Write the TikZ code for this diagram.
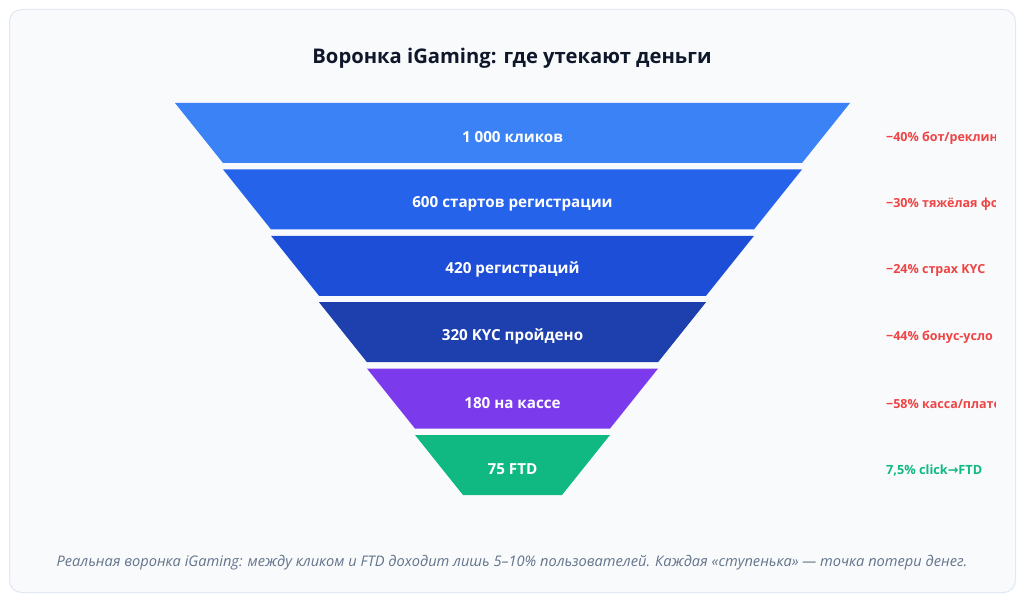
\documentclass[tikz,border=0pt]{standalone}
\usepackage{fontspec}
\setmainfont{Open Sans}
\newfontfamily\symfont{DejaVu Sans}
\definecolor{bgc}{HTML}{F8FAFC}
\definecolor{borderc}{HTML}{E2E8F0}
\definecolor{titlec}{HTML}{0F172A}
\definecolor{capc}{HTML}{64748B}
\definecolor{lossc}{HTML}{EF4444}
\definecolor{okc}{HTML}{10B981}
\definecolor{c1}{HTML}{3B82F6}
\definecolor{c2}{HTML}{2563EB}
\definecolor{c3}{HTML}{1D4ED8}
\definecolor{c4}{HTML}{1E40AF}
\definecolor{c5}{HTML}{7C3AED}
\definecolor{c6}{HTML}{10B981}
\begin{document}
\begin{tikzpicture}[x=1pt,y=-1pt,
  stagelbl/.style={text=white,font=\fontsize{15.2}{18}\selectfont\bfseries,inner sep=0pt},
  losslbl/.style={anchor=west,text=lossc,font=\fontsize{12.5}{15}\selectfont\bfseries,inner sep=0pt},
  oklbl/.style={anchor=west,text=okc,font=\fontsize{12.7}{15}\selectfont\bfseries,inner sep=0pt},
  titlelbl/.style={text=titlec,font=\fontsize{20.2}{24}\selectfont\bfseries,inner sep=0pt},
  caplbl/.style={text=capc,font=\fontsize{14.6}{17}\selectfont\itshape,inner sep=0pt}]
\useasboundingbox (0,0) rectangle (1024,601);
\fill[white] (0,0) rectangle (1024,601);
\draw[rounded corners=12pt, fill=bgc, draw=borderc, line width=1pt] (9.5,9.5) rectangle (1015.5,592.5);
\node[titlelbl] (title) at (512,58) {Воронка iGaming: где утекают деньги};
\foreach \i/\col/\txt in {0/c1/{1 000 кликов},1/c2/{600 стартов регистрации},2/c3/{420 регистраций},3/c4/{320 KYC пройдено},4/c5/{180 на кассе},5/c6/{75 FTD}}{
  \pgfmathsetmacro{\yt}{103+66.4*\i}
  \pgfmathsetmacro{\yb}{\yt+60}
  \pgfmathsetmacro{\wt}{337.5-48*\i}
  \pgfmathsetmacro{\wb}{\wt-48}
  \fill[\col] (512.5-\wt,\yt) -- (512.5+\wt,\yt) -- (512.5+\wb,\yb) -- (512.5-\wb,\yb) -- cycle;
  \node[stagelbl] (s\i) at (512.5,\yt+34) {\txt};
}
\begin{scope}
\clip (0,0) rectangle (995,601);
\foreach \i/\txt in {0/{−40\% бот/реклин},1/{−30\% тяжёлая фо},2/{−24\% страх KYC},3/{−44\% бонус-усло},4/{−58\% касса/плате}}{
  \pgfmathsetmacro{\yc}{138+66.4*\i}
  \node[losslbl] (l\i) at (886,\yc) {\txt};
}
\node[oklbl] (l5) at (886,138+66.4*5) {7,5\% click{\symfont →}FTD};
\end{scope}
\node[caplbl] (cap) at (512,563) {Реальная воронка iGaming: между кликом и FTD доходит лишь 5–10\% пользователей. Каждая «ступенька» — точка потери денег.};
\end{tikzpicture}
\end{document}
